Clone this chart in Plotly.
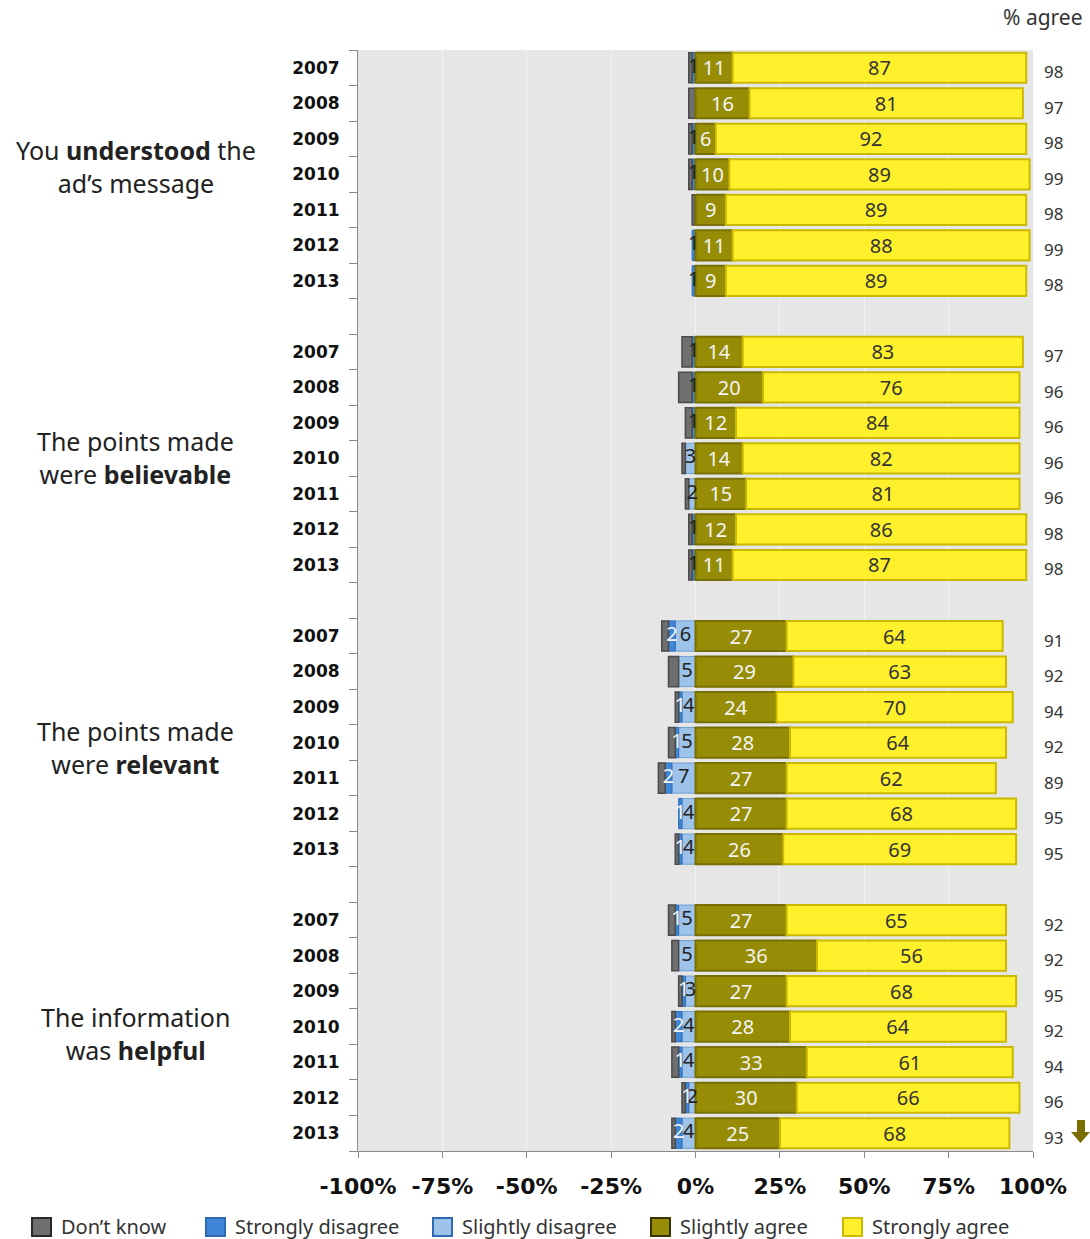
import plotly.graph_objects as go

# Survey statements (each asked every year 2007-2013)
statements = [
    "You <b>understood</b> the<br>ad’s message",
    "The points made<br>were <b>believable</b>",
    "The points made<br>were <b>relevant</b>",
    "The information<br>was <b>helpful</b>",
]
years = ["2007", "2008", "2009", "2010", "2011", "2012", "2013"]

# Percentages, rows ordered statement by statement, 2007 -> 2013
dont_know = [1, 2, 1, 1, 1, 0, 0,
             3, 4, 2, 1, 1, 1, 1,
             2, 3, 1, 2, 2, 0, 1,
             2, 2, 1, 1, 2, 1, 1]
strongly_disagree = [1, 0, 1, 1, 0, 1, 1,
                     1, 1, 1, 0, 0, 1, 1,
                     2, 0, 1, 1, 2, 1, 1,
                     1, 0, 1, 2, 1, 1, 2]
slightly_disagree = [0, 0, 0, 0, 0, 0, 0,
                     0, 0, 0, 3, 2, 0, 0,
                     6, 5, 4, 5, 7, 4, 4,
                     5, 5, 3, 4, 4, 2, 4]
slightly_agree = [11, 16, 6, 10, 9, 11, 9,
                  14, 20, 12, 14, 15, 12, 11,
                  27, 29, 24, 28, 27, 27, 26,
                  27, 36, 27, 28, 33, 30, 25]
strongly_agree = [87, 81, 92, 89, 89, 88, 89,
                  83, 76, 84, 82, 81, 86, 87,
                  64, 63, 70, 64, 62, 68, 69,
                  65, 56, 68, 64, 61, 66, 68]
agree_total = [98, 97, 98, 99, 98, 99, 98,
               97, 96, 96, 96, 96, 98, 98,
               91, 92, 94, 92, 89, 95, 95,
               92, 92, 95, 92, 94, 96, 93]

x_ticks = [-100, -75, -50, -25, 0, 25, 50, 75, 100]
x_ticktext = ["-100%", "-75%", "-50%", "-25%", "0%", "25%", "50%", "75%", "100%"]

# Row positions: 7 years per statement, one blank slot between statements
n_years = len(years)
slot = [g * (n_years + 1) + i for g in range(len(statements)) for i in range(n_years)]
year_labels = [years[i] for g in range(len(statements)) for i in range(n_years)]
last_slot = slot[-1]

C_DK = "#6f6f6f"
C_SD = "#3f86d6"
C_SLD = "#9dc3ea"
C_SLA = "#968c05"
C_STA = "#fff02c"

L_DK = "#4a4a4a"
L_SD = "#2c6bb3"
L_SLD = "#6f9fd2"
L_SLA = "#776f00"
L_STA = "#cbb800"

BAR_FONT = "Noto Sans"
fig = go.Figure()


def neg(vals):
    return [-v for v in vals]


# Negative side: stacked outward from zero (relative barmode)
fig.add_trace(go.Bar(
    y=slot, x=neg(slightly_disagree), orientation="h", name="Slightly disagree",
    marker=dict(color=C_SLD, line=dict(color=L_SLD, width=1)), hoverinfo="skip"))
fig.add_trace(go.Bar(
    y=slot, x=neg(strongly_disagree), orientation="h", name="Strongly disagree",
    marker=dict(color=C_SD, line=dict(color=L_SD, width=1)), hoverinfo="skip"))
fig.add_trace(go.Bar(
    y=slot, x=neg(dont_know), orientation="h", name="Don’t know",
    marker=dict(color=C_DK, line=dict(color=L_DK, width=1.5)), hoverinfo="skip"))

# Positive side
fig.add_trace(go.Bar(
    y=slot, x=slightly_agree, orientation="h", name="Slightly agree",
    marker=dict(color=C_SLA, line=dict(color=L_SLA, width=2)),
    text=[str(v) for v in slightly_agree], textposition="inside",
    insidetextanchor="middle", textangle=0, constraintext="none",
    textfont=dict(family=BAR_FONT, size=20, color="#f4f4f4"), hoverinfo="skip"))
fig.add_trace(go.Bar(
    y=slot, x=strongly_agree, orientation="h", name="Strongly agree",
    marker=dict(color=C_STA, line=dict(color=L_STA, width=2)),
    text=[str(v) for v in strongly_agree], textposition="inside",
    insidetextanchor="middle", textangle=0, constraintext="none",
    textfont=dict(family=BAR_FONT, size=20, color="#333333"), hoverinfo="skip"))

# Labels for the small disagree segments, centred on each segment
sld_x, sld_y, sld_t = [], [], []
sd_x, sd_y, sd_t, sd_c = [], [], [], []
for s, sd, sld in zip(slot, strongly_disagree, slightly_disagree):
    if sld > 0:
        sld_x.append(-sld / 2)
        sld_y.append(s)
        sld_t.append(str(sld))
    if sd > 0:
        sd_x.append(-(sld + sd / 2))
        sd_y.append(s)
        sd_t.append(str(sd))
        sd_c.append("#f4f4f4" if sld > 0 else "#222222")

fig.add_trace(go.Scatter(
    x=sld_x, y=sld_y, text=sld_t, mode="text", showlegend=False, hoverinfo="skip",
    textfont=dict(family=BAR_FONT, size=20, color="#222222")))
fig.add_trace(go.Scatter(
    x=sd_x, y=sd_y, text=sd_t, mode="text", showlegend=False, hoverinfo="skip",
    textfont=dict(family=BAR_FONT, size=20, color=sd_c)))

# "% agree" totals to the right of the plot
for s, tot in zip(slot, agree_total):
    fig.add_annotation(x=1.013, xref="paper", y=s, yref="y", text=str(tot),
                       showarrow=False, xanchor="left", yanchor="middle", yshift=-4,
                       font=dict(family="Noto Sans", size=17, color="#333333"))
fig.add_annotation(x=1.077, xref="paper", y=1.03, yref="paper", text="% agree",
                   showarrow=False, xanchor="right", yanchor="middle",
                   font=dict(family="Noto Sans", size=21, color="#333333"))

# Statement labels, centred on their block of years (with small nudges)
label_nudge = [8, 1, -5, -7]
for g, label in enumerate(statements):
    centre = g * (n_years + 1) + (n_years - 1) / 2
    fig.add_annotation(x=-0.329, xref="paper", y=centre, yref="y", text=label,
                       showarrow=False, xanchor="center", yanchor="middle",
                       align="center", yshift=label_nudge[g],
                       font=dict(family="Noto Sans", size=25, color="#222222"))

# Legend drawn along the bottom edge (pixel layout converted to paper units)
PLOT_L, PLOT_W, PLOT_B, PLOT_H = 358, 675, 1151, 1101


def px(xp):
    return (xp - PLOT_L) / PLOT_W


def py(yp):
    return (PLOT_B - yp) / PLOT_H


legend_names = ["Don’t know", "Strongly disagree", "Slightly disagree",
                "Slightly agree", "Strongly agree"]
legend_fill = [C_DK, C_SD, C_SLD, C_SLA, C_STA]
legend_edge = ["#2a2a2a", L_SD, L_SD, "#3a3500", L_STA]
legend_left = [32, 206, 433, 651, 843]
for name, fill, edge, left in zip(legend_names, legend_fill, legend_edge, legend_left):
    fig.add_shape(type="rect", xref="paper", yref="paper",
                  x0=px(left), x1=px(left + 19), y0=py(1236), y1=py(1218),
                  fillcolor=fill, line=dict(color=edge, width=2))
    fig.add_annotation(x=px(left + 28), xref="paper", y=py(1226), yref="paper",
                       text=name, showarrow=False, xanchor="left", yanchor="middle",
                       borderpad=0,
                       font=dict(family="Noto Sans", size=20, color="#333333"))

# Down arrow marker in the bottom-right corner
fig.add_shape(type="path", xref="paper", yref="paper",
              path="M 1.0652,0.0282 L 1.0770,0.0282 L 1.0770,0.0173 L 1.0844,0.0173 "
                   "L 1.0704,0.0073 L 1.0563,0.0173 L 1.0652,0.0173 Z",
              fillcolor="#7a6e00", line=dict(width=0))

fig.update_layout(
    width=1090, height=1239,
    margin=dict(l=358, r=57, t=50, b=88, autoexpand=False),
    barmode="relative", bargap=0.15,
    paper_bgcolor="white", plot_bgcolor="#e6e6e6",
    showlegend=False,
    xaxis=dict(range=[-100, 100], tickvals=x_ticks, ticktext=x_ticktext,
               showgrid=True, gridcolor="#f3f3f3", gridwidth=1, zeroline=False,
               showline=True, linecolor="#8a8a8a", linewidth=1,
               ticks="outside", ticklen=6, tickcolor="#8a8a8a",
               ticklabelstandoff=10,
               tickfont=dict(family="DejaVu Sans", size=22, color="#111111",
                             weight="bold"),
               fixedrange=True),
    yaxis=dict(range=[last_slot + 0.5, -0.5], tickvals=slot, ticktext=year_labels,
               showgrid=False, zeroline=False,
               showline=True, linecolor="#8a8a8a", linewidth=1,
               ticks="", ticklabelstandoff=14,
               minor=dict(tickvals=[k - 0.5 for k in range(last_slot + 2)],
                          ticks="outside", ticklen=8, tickcolor="#8a8a8a"),
               tickfont=dict(family="DejaVu Sans", size=17, color="#111111",
                             weight="bold"),
               fixedrange=True),
)

fig.write_html("out.html")
